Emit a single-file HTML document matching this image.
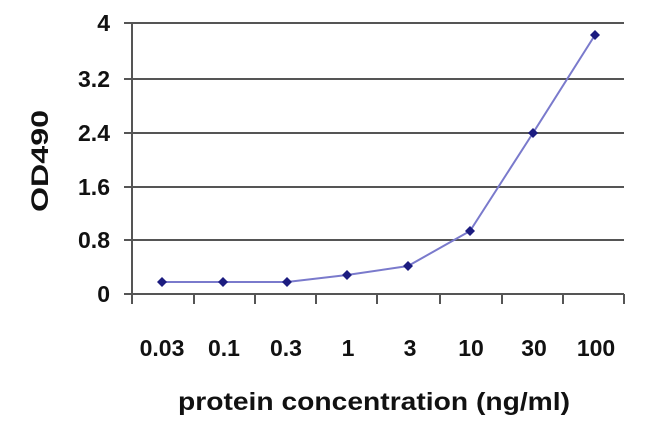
<!DOCTYPE html>
<html><head><style>body{margin:0;background:#fff}svg{display:block}</style></head><body>
<svg width="650" height="424" xmlns="http://www.w3.org/2000/svg" font-family="Liberation Sans, sans-serif" font-weight="bold">
<g stroke="#555" stroke-width="2">
<line x1="124" y1="23" x2="624" y2="23"/>
<line x1="124" y1="79" x2="624" y2="79"/>
<line x1="124" y1="133" x2="624" y2="133"/>
<line x1="124" y1="187" x2="624" y2="187"/>
<line x1="124" y1="240" x2="624" y2="240"/>
<line x1="124" y1="294" x2="624" y2="294"/>
<line x1="132" y1="23" x2="132" y2="304"/>
<line x1="194" y1="294" x2="194" y2="304"/>
<line x1="255" y1="294" x2="255" y2="304"/>
<line x1="316" y1="294" x2="316" y2="304"/>
<line x1="377" y1="294" x2="377" y2="304"/>
<line x1="440" y1="294" x2="440" y2="304"/>
<line x1="502" y1="294" x2="502" y2="304"/>
<line x1="563" y1="294" x2="563" y2="304"/>
<line x1="624" y1="294" x2="624" y2="304"/>
</g>
<polyline fill="none" stroke="#7a7acc" stroke-width="2" points="162,282 223,282 287,282 347,275 408,266 470,231 533,133 595,35"/>
<g fill="#1c1c80">
<path d="M162,277l5,5l-5,5l-5,-5z"/><path d="M223,277l5,5l-5,5l-5,-5z"/><path d="M287,277l5,5l-5,5l-5,-5z"/><path d="M347,270l5,5l-5,5l-5,-5z"/><path d="M408,261l5,5l-5,5l-5,-5z"/><path d="M470,226l5,5l-5,5l-5,-5z"/><path d="M533,128l5,5l-5,5l-5,-5z"/><path d="M595,30l5,5l-5,5l-5,-5z"/>
</g>
<g font-size="23" fill="#111" text-anchor="end">
<text x="110" y="31">4</text><text x="110" y="87">3.2</text><text x="110" y="141">2.4</text><text x="110" y="195">1.6</text><text x="110" y="248">0.8</text><text x="110" y="302">0</text>
</g>
<g font-size="23" fill="#111" text-anchor="middle">
<text x="162" y="356">0.03</text><text x="224" y="356">0.1</text><text x="286" y="356">0.3</text><text x="348" y="356">1</text><text x="410" y="356">3</text><text x="471" y="356">10</text><text x="534" y="356">30</text><text x="596" y="356">100</text>
<text x="178" y="410" text-anchor="start" textLength="392" lengthAdjust="spacingAndGlyphs" font-size="25">protein concentration (ng/ml)</text>
<text transform="translate(48,212) rotate(-90)" text-anchor="start" font-size="24" textLength="102" lengthAdjust="spacingAndGlyphs">OD490</text>
</g>
</svg>
</body></html>
